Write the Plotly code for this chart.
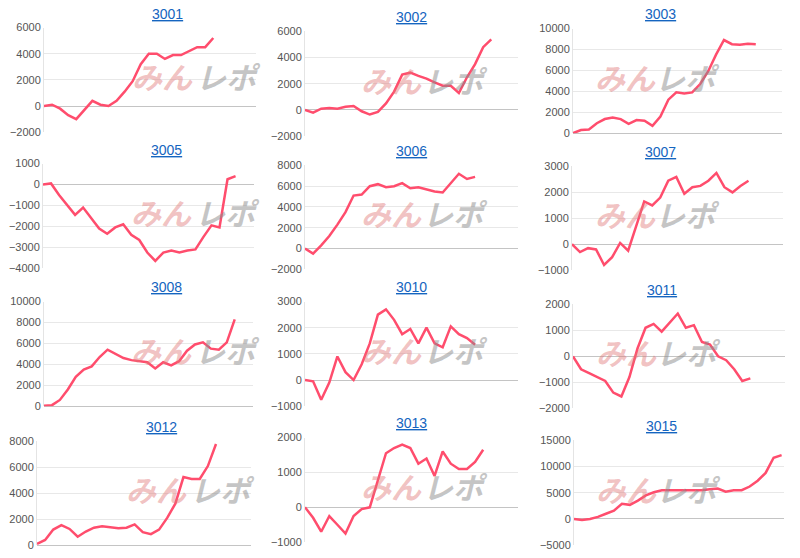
import plotly.graph_objects as go

W, H = 800, 558
titles = ["3001", "3002", "3003", "3005", "3006", "3007", "3008", "3010", "3011", "3012", "3013", "3015"]
s3001 = [0, 100, -200, -700, -1000, -300, 400, 100, 0, 400, 1100, 1900, 3200, 4000, 4000, 3600, 3900, 3900, 4200, 4500, 4500, 5200]
s3002 = [0, -200, 100, 150, 100, 250, 300, -100, -350, -150, 500, 1400, 2700, 2850, 2600, 2400, 2100, 1850, 1850, 1300, 2500, 3500, 4800, 5400]
s3003 = [0, 300, 350, 950, 1350, 1500, 1350, 900, 1250, 1200, 700, 1600, 3200, 3900, 3800, 3900, 4700, 5900, 7500, 8900, 8500, 8450, 8550, 8500]
s3005 = [0, 50, -500, -950, -1450, -1100, -1600, -2100, -2350, -2050, -1900, -2400, -2650, -3250, -3650, -3250, -3150, -3250, -3150, -3100, -2500, -1950, -2050, 250, 400]
s3006 = [0, -500, 300, 1200, 2300, 3500, 5100, 5200, 6000, 6200, 5900, 6000, 6300, 5800, 5900, 5700, 5500, 5400, 6300, 7200, 6700, 6900]
s3007 = [0, -300, -150, -200, -800, -500, 50, -250, 700, 1650, 1500, 1800, 2450, 2600, 1950, 2200, 2250, 2450, 2750, 2200, 2000, 2250, 2450]
s3008 = [50, 100, 600, 1600, 2800, 3500, 3800, 4700, 5400, 5000, 4600, 4400, 4300, 4200, 3600, 4200, 3900, 4300, 5300, 5900, 6100, 5500, 5400, 6100, 8300]
s3010 = [0, -50, -750, -100, 900, 300, 0, 600, 1400, 2500, 2700, 2300, 1750, 1950, 1400, 2000, 1400, 1250, 2050, 1750, 1600, 1350]
s3011 = [0, -500, -650, -800, -950, -1400, -1550, -800, 300, 1100, 1250, 950, 1300, 1650, 1100, 1200, 550, 450, 0, -150, -500, -950, -850]
s3012 = [100, 400, 1200, 1550, 1250, 650, 1050, 1350, 1450, 1350, 1300, 1350, 1600, 1000, 850, 1200, 2100, 3200, 5250, 5100, 5100, 6100, 7800]
s3013 = [0, -300, -700, -250, -500, -750, -250, -50, 0, 800, 1550, 1700, 1800, 1700, 1250, 1400, 900, 1600, 1250, 1100, 1100, 1300, 1650]
s3015 = [0, -200, 0, 400, 1000, 1600, 2900, 2700, 3500, 4500, 5100, 5500, 5500, 5500, 5600, 5600, 5500, 5700, 5800, 5200, 5500, 5500, 6200, 7300, 8800, 11700, 12200]
series = [s3001, s3002, s3003, s3005, s3006, s3007, s3008, s3010, s3011, s3012, s3013, s3015]
yranges = [(-2000, 6000, 2000), (-2000, 6000, 2000), (0, 10000, 2000), (-4000, 1000, 1000),
           (-2000, 8000, 2000), (-1000, 3000, 1000), (0, 10000, 2000), (-1000, 3000, 1000),
           (-2000, 2000, 1000), (0, 8000, 2000), (-1000, 2000, 1000), (-5000, 15000, 5000)]
# pixel boxes (left, right, top, bottom)
boxes = [(44, 256, 22, 129), (305, 518, 26, 133), (573, 782, 23, 130),
         (43, 254, 161, 268), (305, 518, 163, 269), (572, 783, 164, 270),
         (44, 253, 302, 409), (305, 518, 302, 409), (573, 785, 305, 411),
         (37, 251, 445, 551), (305, 518, 441, 548), (574, 784, 444, 551)]
title_y = [8, 11, 8, 147, 148, 149, 287, 287, 290, 430, 426, 429]

fig = go.Figure()
layout = dict(width=W, height=H, margin=dict(l=0, r=0, t=0, b=0),
              paper_bgcolor="white", plot_bgcolor="white", showlegend=False,
              font=dict(family="Arial, Liberation Sans", size=11, color="#555"))
anns = []
for i, (t, s, yr, bx) in enumerate(zip(titles, series, yranges, boxes)):
    k = "" if i == 0 else str(i + 1)
    l, r, tp, bt = bx
    xd = [l / W, r / W]
    yd = [1 - bt / H, 1 - tp / H]
    layout["xaxis" + k] = dict(domain=xd, range=[0, 26.3], showgrid=False, showticklabels=False,
                               zeroline=False, showline=False, ticks="", anchor="y" + k)
    layout["yaxis" + k] = dict(domain=yd, range=[yr[0], yr[1]], dtick=yr[2], tick0=yr[0],
                               tickformat="d", anchor="x" + k,
                               gridcolor="#e8e8e8", zeroline=True, zerolinecolor="#c4c4c4",
                               zerolinewidth=1, showline=True, linecolor="#e4e4e4",
                               tickfont=dict(size=11, color="#555"))
    fig.add_trace(go.Scatter(x=list(range(len(s))), y=s, mode="lines",
                             line=dict(color="#ff4d6d", width=2.5),
                             xaxis="x" + k, yaxis="y" + k))
    cx = (l + r) / 2 / W
    anns.append(dict(text="<u>" + t + "</u>", x=cx, y=1 - title_y[i] / H, xref="paper", yref="paper",
                     yanchor="middle", showarrow=False,
                     font=dict(size=14, color="#1565c0", family="Arial, Liberation Sans")))
    cy = 1 - ((tp + bt) / 2 - 4) / H
    mx = (l + r) / 2 + 12
    anns.append(dict(text="<b><i>みん</i></b>", x=(mx - 32) / W, y=cy, xref="paper", yref="paper",
                     yanchor="middle", showarrow=False,
                     font=dict(size=30, color="rgba(225,120,120,0.45)", family="Noto Sans CJK JP")))
    anns.append(dict(text="<b><i>レポ</i></b>", x=(mx + 32) / W, y=cy, xref="paper", yref="paper",
                     yanchor="middle", showarrow=False,
                     font=dict(size=30, color="rgba(140,140,140,0.5)", family="Noto Sans CJK JP")))
layout["annotations"] = anns
fig.update_layout(**layout)
fig.write_html("out.html", config={"displayModeBar": False},
               post_script="document.body.style.margin='0';document.body.style.overflow='hidden';")
